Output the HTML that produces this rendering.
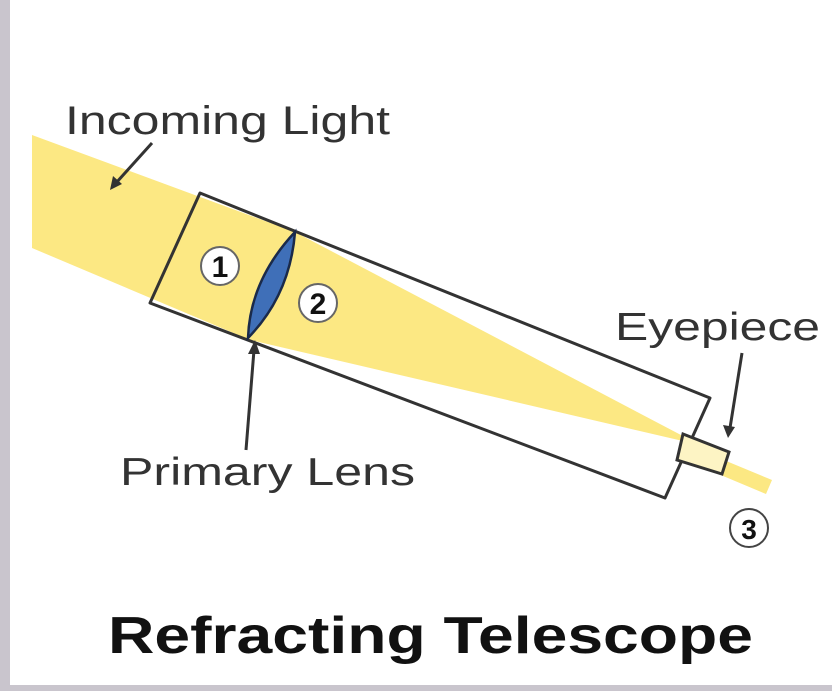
<!DOCTYPE html>
<html><head><meta charset="utf-8"><style>
html,body{margin:0;padding:0;background:#fff;}
svg{display:block;}
text{font-family:"Liberation Sans",sans-serif;}
</style></head><body>
<svg width="832" height="691" viewBox="0 0 832 691" xmlns="http://www.w3.org/2000/svg">
<rect width="832" height="691" fill="#fff"/>
<rect x="0" y="0" width="10" height="691" fill="#c9c5cd"/>
<rect x="0" y="685" width="832" height="6" fill="#c9c5cd"/>
<polygon points="32,135 295,232 250,340 32,248" fill="#fce883"/>
<polygon points="295,232 700,445 250,340" fill="#fce883"/>
<polygon points="690,446 772,480 766,494 685,460" fill="#fce883"/>
<polygon points="200,193 710,398 665,498 150,303" fill="none" stroke="#333" stroke-width="3" stroke-linejoin="round"/>
<path d="M295,232 Q290,295 248,338 Q250,280 295,232 Z" fill="#3f6fb8" stroke="#1a2a4a" stroke-width="2.5"/>
<polygon points="683,434 729,452 722,474 677,460" fill="#fdf4c4" stroke="#333" stroke-width="3"/>
<g><circle cx="220" cy="266" r="19" fill="#fff" stroke="#666" stroke-width="2"/><text x="220" y="277" font-size="30" font-weight="bold" text-anchor="middle" fill="#111">1</text></g>
<g><circle cx="318" cy="303" r="19" fill="#fff" stroke="#666" stroke-width="2"/><text x="318" y="314" font-size="30" font-weight="bold" text-anchor="middle" fill="#111">2</text></g>
<g><circle cx="749" cy="528" r="19" fill="#fff" stroke="#444" stroke-width="2"/><text x="749" y="539" font-size="28" font-weight="bold" text-anchor="middle" fill="#111">3</text></g>
<text x="65" y="134" font-size="40" fill="#333" textLength="325" lengthAdjust="spacingAndGlyphs">Incoming Light</text>
<line x1="152" y1="143" x2="116" y2="183" stroke="#333" stroke-width="3"/>
<polygon points="110,190 113,176 122,184" fill="#333"/>
<text x="120" y="485" font-size="39" fill="#333" textLength="295" lengthAdjust="spacingAndGlyphs">Primary Lens</text>
<line x1="246" y1="450" x2="254" y2="350" stroke="#333" stroke-width="3"/>
<polygon points="255,340 248,354 260,354" fill="#333"/>
<text x="615" y="340" font-size="39" fill="#333" textLength="205" lengthAdjust="spacingAndGlyphs">Eyepiece</text>
<line x1="742" y1="353" x2="730" y2="428" stroke="#333" stroke-width="3"/>
<polygon points="728,438 723,425 735,427" fill="#333"/>
<text x="108" y="653" font-size="52" font-weight="bold" fill="#111" textLength="645" lengthAdjust="spacingAndGlyphs">Refracting Telescope</text>
</svg>
</body></html>
